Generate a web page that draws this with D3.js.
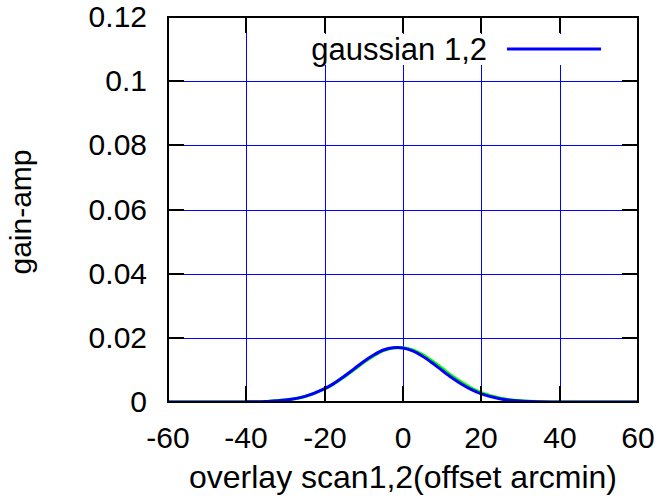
<!DOCTYPE html>
<html lang="en">
<head>
    <meta charset="UTF-8">
    <title>gain-amp overlay scan</title>
    <style>
        body { margin: 0; background: #fff; }
        #grafico { display: block; }
        text { font-family: "Liberation Sans", Arial, sans-serif; fill: #000; }
        .eixo text { font-size: 30px; }
        .eixo path { display: none; }
        .eixo line { stroke: #000; stroke-width: 2; }
        .grade line { stroke: #0000ff; stroke-width: 1; }
    </style>
    <script src="https://d3js.org/d3.v7.min.js"></script>
</head>
<body>
<svg id="grafico" width="665" height="499"></svg>
<script>
    // offsets (arcmin)
    const offsets = [-60, -55, -50, -45, -40, -35, -30, -25, -20, -17.5, -15, -12.5, -10, -7.5, -5, -2.5,
        0, 2.5, 5, 7.5, 10, 12.5, 15, 17.5, 20, 25, 30, 35, 40, 45, 50, 55, 60];
    // scan 1 (green)
    const scan1 = [0, 0, 0, 0.00001, 0.00004, 0.00017, 0.0006, 0.00172, 0.00405, 0.00575, 0.0078, 0.01002,
        0.01235, 0.01437, 0.016, 0.01685, 0.0169, 0.0162, 0.01478, 0.01275, 0.01052, 0.0082, 0.00617,
        0.00435, 0.00293, 0.00115, 0.00036, 0.0001, 0.00002, 0, 0, 0, 0];
    // gaussian 1,2 (blue)
    const gauss12 = [0, 0, 0, 0.00001, 0.00004, 0.00016, 0.00059, 0.00174, 0.00415, 0.0059, 0.008, 0.01032,
        0.01265, 0.01465, 0.0162, 0.01693, 0.01685, 0.01592, 0.01427, 0.01216, 0.00982, 0.00756, 0.00553,
        0.00383, 0.00252, 0.00093, 0.00028, 0.00007, 0.00001, 0, 0, 0, 0];
    const xTicks = [-60, -40, -20, 0, 20, 40, 60];
    const yTicks = [0, 0.02, 0.04, 0.06, 0.08, 0.1, 0.12];

    const esq = 168, dir = 638, topo = 17, base = 402;
    const svg = d3.select('#grafico');

    const fnX = d3.scaleLinear().domain([-60, 60]).range([esq, dir]);
    const fnY = d3.scaleLinear().domain([0, 0.12]).range([base, topo]);
    // versoes arredondadas para os tracos
    const fnXr = fnX.copy().interpolate(d3.interpolateRound);
    const fnYr = fnY.copy().interpolate(d3.interpolateRound);

    // grade
    const grade = svg.append('g').classed('grade', true);
    grade.selectAll('line.gx')
        .data(xTicks.slice(1, -1))
        .enter().append('line')
        .attr('x1', d => fnXr(d) + 0.5).attr('x2', d => fnXr(d) + 0.5)
        .attr('y1', topo).attr('y2', base);
    grade.selectAll('line.gy')
        .data(yTicks.slice(1, -1))
        .enter().append('line')
        .attr('y1', d => fnYr(d) + 0.5).attr('y2', d => fnYr(d) + 0.5)
        .attr('x1', esq).attr('x2', dir);

    // legenda (fundo branco esconde a grade)
    svg.append('rect')
        .attr('x', 298).attr('y', 34).attr('width', 316).attr('height', 31)
        .attr('fill', '#fff');

    // curvas
    const clip = svg.append('clipPath').attr('id', 'area');
    clip.append('rect').attr('x', esq).attr('y', topo).attr('width', dir - esq).attr('height', base - topo);

    const linha = serie => d3.line()
        .x((d, i) => fnX(offsets[i]))
        .y(d => fnY(d))
        .curve(d3.curveCatmullRom)(serie);

    svg.append('path')
        .attr('d', linha(scan1))
        .attr('clip-path', 'url(#area)')
        .attr('fill', 'none').attr('stroke', '#00ff00').attr('stroke-width', 3);
    svg.append('path')
        .attr('d', linha(gauss12))
        .attr('clip-path', 'url(#area)')
        .attr('fill', 'none').attr('stroke', '#0000ff').attr('stroke-width', 3);

    // eixos
    const tam = 16;
    svg.append('g').classed('eixo', true)
        .attr('transform', `translate(0,${base})`)
        .call(d3.axisBottom(fnXr).tickValues(xTicks).offset(0).tickSizeInner(-tam).tickSizeOuter(0).tickPadding(25).tickFormat(d => String(d)));
    svg.append('g').classed('eixo', true)
        .attr('transform', `translate(0,${topo})`)
        .call(d3.axisTop(fnXr).tickValues(xTicks).offset(0).tickSizeInner(-tam).tickSizeOuter(0).tickFormat(''));
    svg.append('g').classed('eixo', true)
        .attr('transform', `translate(${esq},0)`)
        .call(d3.axisLeft(fnYr).tickValues(yTicks).offset(0).tickSizeInner(-tam).tickSizeOuter(0).tickPadding(21).tickFormat(d => String(d)));
    svg.append('g').classed('eixo', true)
        .attr('transform', `translate(${dir},0)`)
        .call(d3.axisRight(fnYr).tickValues(yTicks).offset(0).tickSizeInner(-tam).tickSizeOuter(0).tickFormat(''));

    // moldura
    svg.append('rect')
        .attr('x', esq).attr('y', topo).attr('width', dir - esq).attr('height', base - topo)
        .attr('fill', 'none').attr('stroke', '#000').attr('stroke-width', 2);

    // texto da legenda
    svg.append('text')
        .attr('x', 487).attr('y', 60)
        .style('font-size', '31px')
        .style('text-anchor', 'end')
        .text('gaussian 1,2');
    svg.append('line')
        .attr('x1', 507).attr('x2', 601).attr('y1', 49).attr('y2', 49)
        .attr('stroke', '#0000ff').attr('stroke-width', 3);

    // rotulos dos eixos
    svg.append('text')
        .attr('x', 403).attr('y', 488)
        .style('font-size', '32px')
        .style('text-anchor', 'middle')
        .text('overlay scan1,2(offset arcmin)');
    svg.append('text')
        .attr('transform', 'translate(31,212) rotate(-90)')
        .style('font-size', '30px')
        .style('text-anchor', 'middle')
        .text('gain-amp');
</script>
</body>
</html>
